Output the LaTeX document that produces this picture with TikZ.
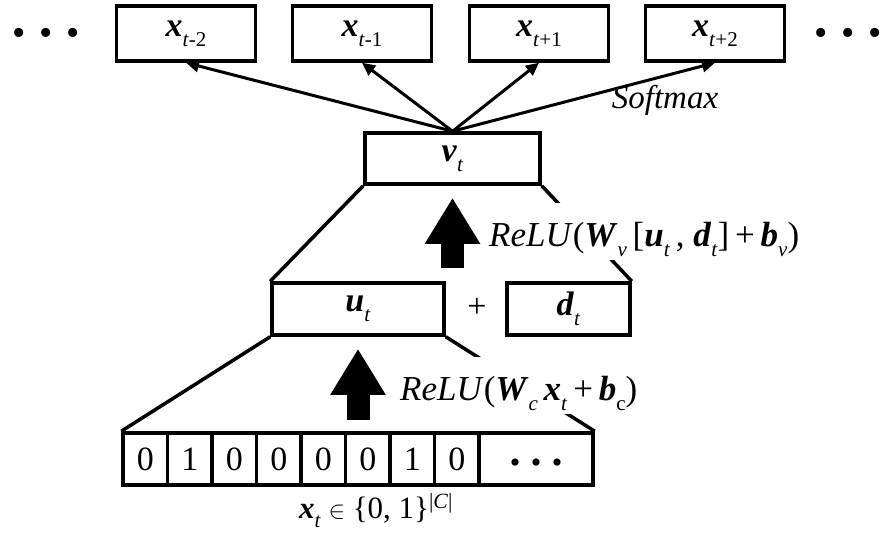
\documentclass[tikz,border=0pt]{standalone}
\usepackage{fontspec}
\setmainfont{Liberation Serif}
\usetikzlibrary{arrows.meta}
\newcommand{\bvec}[1]{\textbf{\textit{#1}}}
\newcommand{\lowsub}[1]{\raisebox{-0.3em}{\fontsize{21}{21}\selectfont #1}}

\begin{document}
\begin{tikzpicture}[x=1pt, y=-1pt,
    box/.style={draw, line width=3.5pt, inner sep=0pt, font=\fontsize{34}{40}\selectfont},
    cell/.style={draw, line width=3.5pt, minimum width=44.5pt, minimum height=52pt,
                 inner sep=0pt, font=\fontsize{34}{40}\selectfont},
    edge/.style={line width=3.5pt},
    outarrow/.style={line width=3pt, -{Triangle[length=13pt,width=12pt]}},
    bigarrow/.style={line width=23pt, -{Triangle[length=46pt,width=52pt]}},
    relu/.style={fill=white, inner xsep=2pt, inner ysep=0pt, text height=43pt,
                 text depth=14pt, anchor=base west, font=\fontsize{35}{40}\selectfont}]
    \useasboundingbox (0,0) rectangle (884,536);

    \foreach \i/\xc/\s in {1/186/\textit{t}-2, 2/362/\textit{t}-1,
                           3/539/\textit{t}+1, 4/715/\textit{t}+2}
      \node[box, minimum width=139pt, minimum height=55pt] (x\i) at (\xc,33.5)
        {\bvec{x}\lowsub{\s}};
    \node[font=\fontsize{38}{40}\selectfont, anchor=base] (ldots) at (46,45)
      {\textbullet\hspace{13.4pt}\textbullet\hspace{13.4pt}\textbullet};
    \node[font=\fontsize{38}{40}\selectfont, anchor=base] (rdots) at (848,45)
      {\textbullet\hspace{13.4pt}\textbullet\hspace{13.4pt}\textbullet};

    \node[box, minimum width=175pt, minimum height=51pt] (v) at (452.5,158.5)
      {\bvec{v}\lowsub{\textit{t}}};
    \node[box, minimum width=172pt, minimum height=52pt] (u) at (358,309)
      {\bvec{u}\lowsub{\textit{t}}};
    \node[font=\fontsize{34}{40}\selectfont] (plus) at (477,308) {+};
    \node[box, minimum width=123pt, minimum height=52pt] (d) at (568.5,309)
      {\bvec{d}\lowsub{\textit{t}}};

    \foreach \b [count=\i] in {0,1,0,0,0,0,1,0}
      \node[cell] (c\i) at ({100.75+44.5*\i},459) {\b};
    \node[cell, minimum width=114pt, font=\fontsize{30}{34}\selectfont] (cd) at (536,459)
      {\raisebox{-13pt}[0pt][0pt]{\textbullet\hspace{10.5pt}\textbullet\hspace{10.5pt}\textbullet}};
    \node[font=\fontsize{31}{36}\selectfont, anchor=base] (cap) at (376,518)
      {\bvec{x}\lowsub{\textit{t}} $\in$ \{0, 1\}\textsuperscript{|\textit{C}|}};

    \foreach \i in {1,...,4}
      \draw[outarrow] (v.north) -- (x\i.south);
    \node[font=\fontsize{33}{38}\selectfont\itshape] (sm) at (665,100) {Softmax};

    \draw[edge] (v.south west) -- (u.north west);
    \draw[edge] (v.south east) -- (d.north east);
    \draw[edge] (u.south west) -- (c1.north west);
    \draw[edge] (u.south east) -- (cd.north east);

    \draw[bigarrow, shorten <=13pt, shorten >=12pt] (v.south |- u.north) -- (v.south);
    \draw[bigarrow, shorten <=11pt, shorten >=12pt] (u.south |- c1.north) -- (u.south);

    \node[relu] (r1) at (487,246)
      {\textit{ReLU}(\bvec{W}\lowsub{\textit{v}}\,[\bvec{u}\lowsub{\textit{t}}\,, \bvec{d}\lowsub{\textit{t}}]\,+\,\bvec{b}\lowsub{\textit{v}})};
    \node[relu] (r2) at (398,400)
      {\textit{ReLU}(\bvec{W}\lowsub{\textit{c}}\,\bvec{x}\lowsub{\textit{t}}\,+\,\bvec{b}\lowsub{c})};
\end{tikzpicture}
\end{document}
